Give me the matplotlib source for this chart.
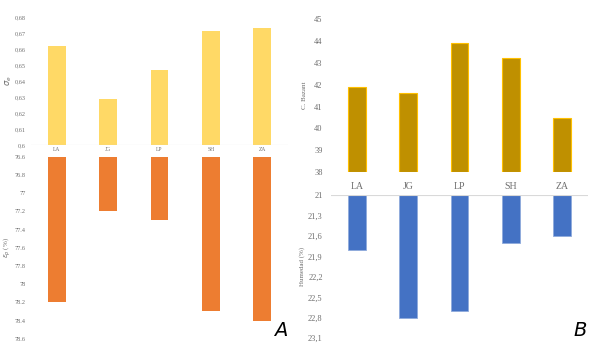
import matplotlib
matplotlib.use("Agg")
import matplotlib.pyplot as plt
from matplotlib.ticker import FixedLocator

categories = ["LA", "JG", "LP", "SH", "ZA"]
sigma_e = [0.662, 0.629, 0.647, 0.671, 0.673]
eps_p = [78.2, 77.2, 77.3, 78.3, 78.4]
c_bazant = [41.9, 41.6, 43.9, 43.2, 40.5]
humedad = [21.8, 22.8, 22.7, 21.7, 21.6]

sig_ticks = [0.6, 0.61, 0.62, 0.63, 0.64, 0.65, 0.66, 0.67, 0.68]
sig_labels = ["0,6", "0,61", "0,62", "0,63", "0,64", "0,65", "0,66", "0,67", "0,68"]
eps_ticks = [76.6, 76.8, 77.0, 77.2, 77.4, 77.6, 77.8, 78.0, 78.2, 78.4, 78.6]
eps_labels = ["76.6", "76.8", "77", "77.2", "77.4", "77.6", "77.8", "78", "78.2", "78.4", "78.6"]
cb_ticks = [38, 39, 40, 41, 42, 43, 44, 45]
hum_ticks = [21.0, 21.3, 21.6, 21.9, 22.2, 22.5, 22.8, 23.1]
hum_labels = ["21", "21,3", "21,6", "21,9", "22,2", "22,5", "22,8", "23,1"]

plt.rcParams['font.family'] = ['Liberation Serif', 'DejaVu Serif']

W, H = 598, 347
fig = plt.figure(figsize=(W / 100, H / 100), dpi=100)

def ax_px(x0, y0, x1, y1):
    # pixel coords (top-left origin) -> figure fraction
    return fig.add_axes([x0 / W, 1 - y1 / H, (x1 - x0) / W, (y1 - y0) / H])

def clean(ax):
    for s in ax.spines.values():
        s.set_visible(False)
    ax.tick_params(length=0)

x = list(range(len(categories)))
tick_col = "#6E6E6E"

# Left top
a1 = ax_px(31, 17, 288, 145)
a1.bar(x, sigma_e, width=0.35, color="#FFD966", bottom=0)
a1.set_xlim(-0.5, 4.5)
a1.set_ylim(0.6, 0.68)
a1.yaxis.set_major_locator(FixedLocator(sig_ticks))
a1.set_yticklabels(sig_labels, fontsize=4.5, color=tick_col)
a1.set_xticks([])
clean(a1)
a1.tick_params(axis="y", pad=4)
a1.axhline(0.6, color="#D9D9D9", lw=0.8)
a1.set_ylabel(r"$\sigma_e$", fontsize=6, color=tick_col, labelpad=0)
for xi, c in zip(x, categories):
    a1.text(xi, 0.5988, c, ha="center", va="top", fontsize=4, color=tick_col,
            transform=a1.transData, clip_on=False)

# Left bottom
a2 = ax_px(31, 156.7, 288, 338.7)
a2.bar(x, [v - 76.6 for v in eps_p], bottom=76.6, width=0.35, color="#ED7D31")
a2.set_xlim(-0.5, 4.5)
a2.set_ylim(78.6, 76.6)
a2.yaxis.set_major_locator(FixedLocator(eps_ticks))
a2.set_yticklabels(eps_labels, fontsize=4.5, color=tick_col)
a2.set_xticks([])
clean(a2)
a2.tick_params(axis="y", pad=4)
a2.set_ylabel(r"$\varepsilon_p$ (%)", fontsize=5, color=tick_col, labelpad=1)

# Right top
a3 = ax_px(331, 19, 588, 172.3)
a3.bar(x, [v - 38 for v in c_bazant], bottom=38, width=0.35, color="#BF9000",
       edgecolor="#FFC000", linewidth=0.8)
a3.set_xlim(-0.5, 4.5)
a3.set_ylim(38, 45)
a3.yaxis.set_major_locator(FixedLocator(cb_ticks))
a3.tick_params(axis="y", labelsize=6, labelcolor=tick_col, pad=6)
a3.set_xticks([])
clean(a3)
a3.set_ylabel("C. Bazant", fontsize=5, color=tick_col, labelpad=5)

# Right bottom
a4 = ax_px(331, 195, 588, 338.3)
a4.bar(x, [v - 21 for v in humedad], bottom=21, width=0.35, color="#4472C4",
       edgecolor="#8FAADC", linewidth=0.6)
a4.set_xlim(-0.5, 4.5)
a4.set_ylim(23.1, 21)
a4.yaxis.set_major_locator(FixedLocator(hum_ticks))
a4.set_yticklabels(hum_labels, fontsize=6, color=tick_col)
a4.set_xticks([])
clean(a4)
a4.tick_params(axis="y", pad=6)
a4.axhline(21, color="#D9D9D9", lw=0.8)
a4.set_ylabel("Humedad (%)", fontsize=5, color=tick_col, labelpad=2)
for xi, c in zip(x, categories):
    a4.text(xi, 20.87, c, ha="center", va="center", fontsize=7, color=tick_col,
            clip_on=False)

fig.text(281 / W, 1 - 331 / H, "A", fontsize=14, style="italic", family="DejaVu Sans",
         ha="center", va="center")
fig.text(580 / W, 1 - 331 / H, "B", fontsize=14, style="italic", family="DejaVu Sans",
         ha="center", va="center")

fig.savefig("out.png", dpi=100)
